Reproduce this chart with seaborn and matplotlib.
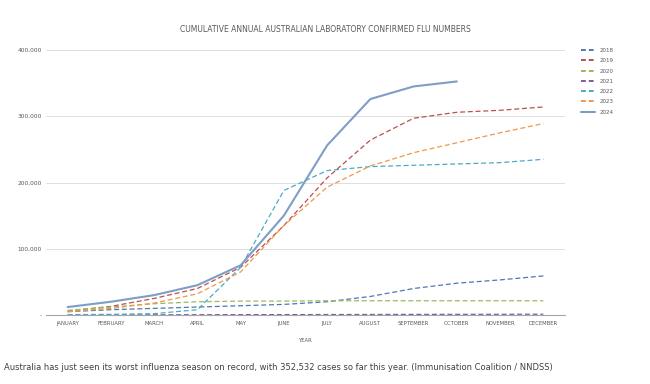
import pandas as pd
import numpy as np
import matplotlib
matplotlib.use("Agg")
import matplotlib.pyplot as plt
from matplotlib.lines import Line2D
import seaborn as sns

months = ["JANUARY", "FEBRUARY", "MARCH", "APRIL", "MAY", "JUNE", "JULY",
          "AUGUST", "SEPTEMBER", "OCTOBER", "NOVEMBER", "DECEMBER"]
years = ["2018", "2019", "2020", "2021", "2022", "2023", "2024"]

cases_2018 = [5000, 8000, 10000, 12000, 14000, 16000, 20000, 28000, 40000, 48000, 53000, 59000]
cases_2019 = [6000, 13000, 25000, 40000, 72000, 135000, 207000, 264000, 297000, 306000, 309000, 314000]
cases_2020 = [7000, 12000, 17000, 20000, 21000, 21000, 21500, 21500, 21500, 21500, 21500, 21500]
cases_2021 = [100, 200, 300, 400, 500, 600, 700, 800, 900, 1000, 1100, 1200]
cases_2022 = [500, 1000, 2000, 8000, 72000, 188000, 218000, 224000, 226000, 228000, 230000, 235000]
cases_2023 = [5000, 10000, 18000, 32000, 65000, 135000, 193000, 225000, 245000, 260000, 275000, 289000]
cases_2024 = [12000, 20000, 30000, 45000, 75000, 150000, 256000, 326000, 345000, 352532]

colors = {"2018": "#4f78b3", "2019": "#b9514c", "2020": "#9bbb59", "2021": "#7a5f9e",
          "2022": "#4bacc6", "2023": "#f0974c", "2024": "#7e9ec6"}

series = [cases_2018, cases_2019, cases_2020, cases_2021, cases_2022, cases_2023, cases_2024]
rows = []
for yr, vals in zip(years, series):
    for i, v in enumerate(vals):
        rows.append({"month": i, "year": yr, "cases": v})
df = pd.DataFrame(rows)

sns.set_style("white")
fig = plt.figure(figsize=(6.5, 3.84), dpi=100)
ax = fig.add_axes([46/650, 1-315/384, (565-46)/650, (315-50)/384])

for yr in years:
    sub = df[df["year"] == yr]
    sns.lineplot(data=sub, x="month", y="cases", ax=ax, color=colors[yr],
                 linewidth=1.5 if yr == "2024" else 0.9, legend=False)
    if yr != "2024":
        ax.lines[-1].set_dashes((4, 2.2))

ax.set_xlim(-0.5, 11.5)
ax.set_ylim(0, 400000)
ax.set_yticks([0, 100000, 200000, 300000, 400000])
ax.set_yticklabels(["-", "100,000", "200,000", "300,000", "400,000"])
ax.set_xticks(range(12))
ax.set_xticklabels(months)
ax.tick_params(axis="y", labelsize=4.2, colors="#595959", length=0, pad=3)
ax.tick_params(axis="x", labelsize=3.8, colors="#595959", length=0, pad=4)
ax.grid(axis="y", color="#d9d9d9", linewidth=0.6)
ax.set_axisbelow(True)
for s in ["top", "right", "left"]:
    ax.spines[s].set_visible(False)
ax.spines["bottom"].set_color("#a6a6a6")
ax.spines["bottom"].set_linewidth(0.8)
ax.set_xlabel("YEAR", fontsize=3.8, color="#595959", labelpad=9)
ax.set_ylabel("")

fig.text(0.5, 1-30/384, "CUMULATIVE ANNUAL AUSTRALIAN LABORATORY CONFIRMED FLU NUMBERS",
         ha="center", va="center", fontsize=5.5, color="#595959")

handles = []
for yr in years:
    if yr == "2024":
        handles.append(Line2D([], [], color=colors[yr], lw=1.5))
    else:
        handles.append(Line2D([], [], color=colors[yr], lw=1.4, dashes=(2.5, 1.5)))
fig.legend(handles, years, loc="upper left", bbox_to_anchor=(576/650, 1-43/384),
           frameon=False, fontsize=4, labelcolor="#595959", handlelength=2.6,
           labelspacing=0.95, handletextpad=0.8)

fig.text(4/650, 1-367/384,
         "Australia has just seen its worst influenza season on record, with 352,532 cases so far this year. (Immunisation Coalition / NNDSS)",
         ha="left", va="center", fontsize=6.0, color="#404040")

fig.savefig("out.png", dpi=100)
